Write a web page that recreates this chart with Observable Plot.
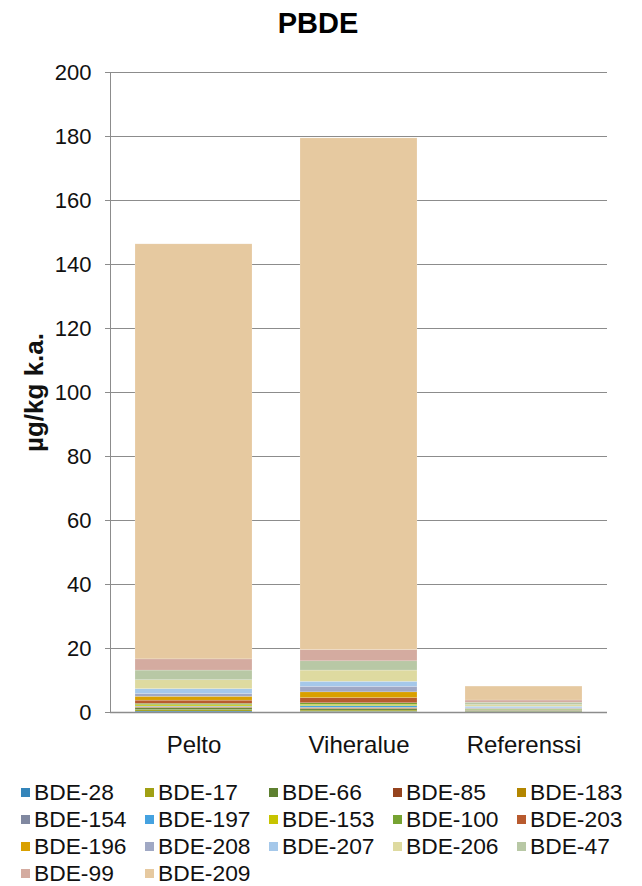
<!DOCTYPE html>
<html>
<head>
<meta charset="utf-8">
<script src="https://cdn.jsdelivr.net/npm/d3@7"></script>
<script src="https://cdn.jsdelivr.net/npm/@observablehq/plot@0.6"></script>
<style>
  body { margin: 0; background: #fff; font-family: "Liberation Sans", Arial, sans-serif; }
  #title { height: 60px; text-align: center; font-weight: bold; font-size: 29px; line-height: 46px; width: 636px; }
  #legend { position: relative; margin-left: 21px; display: grid; grid-template-columns: repeat(5, 124px); row-gap: 0; margin-top: 9px; }
  .item { display: flex; align-items: center; height: 27px; font-size: 22.8px; color: #111; white-space: nowrap; }
  .sw { width: 9px; height: 9px; margin-right: 4px; flex: none; }
</style>
</head>
<body>
<div id="title">PBDE</div>
<div id="chart"></div>
<div id="legend"></div>
<script>
const categories = ["Pelto", "Viheralue", "Referenssi"];
const series = ["BDE-28","BDE-17","BDE-66","BDE-85","BDE-183","BDE-154","BDE-197","BDE-153","BDE-100","BDE-203","BDE-196","BDE-208","BDE-207","BDE-206","BDE-47","BDE-99","BDE-209"];
const colors = ["#3485BA","#A0A014","#5E8030","#95431E","#B38600","#8088A0","#45A2E0","#C7C400","#76A332","#B85A2E","#D9A000","#A0A8C4","#A5C8EA","#DEDAA0","#B8C8A5","#D4ABA0","#E6C9A0"];
// values per series, in order Pelto, Viheralue, Referenssi
const pelto      = [0.3, 0.5, 0.5, 0.2, 0.2, 0.1, 0.1, 0.4, 0.4, 1.0, 1.2, 0.9, 1.5, 2.8, 3.0, 3.5, 129.7];
const viheralue  = [0.2, 0.4, 0.4, 0.2, 0.2, 0.1, 0.5, 0.4, 0.5, 1.6, 1.8, 1.7, 1.6, 3.5, 2.9, 3.5, 159.9];
const referenssi = [0.1, 0.1, 0.3, 0.05, 0.05, 0.05, 0.05, 0.05, 0.2, 0.05, 0.1, 0.2, 0.5, 0.5, 0.75, 0.7, 4.35];
const yTicks = [0, 20, 40, 60, 80, 100, 120, 140, 160, 180, 200];
const yLabel = "µg/kg k.a.";

const cols = [pelto, viheralue, referenssi];
const data = [];
series.forEach((s, i) => {
  categories.forEach((c, j) => data.push({category: c, series: s, value: cols[j][i]}));
});

const chart = Plot.plot({
  width: 642,
  height: 710,
  marginTop: 12,
  marginBottom: 58,
  marginLeft: 110,
  marginRight: 35,
  style: {fontFamily: "'Liberation Sans', Arial, sans-serif", fontSize: "22px", color: "#111", background: "#fff"},
  x: {domain: categories, paddingInner: 0.29, paddingOuter: 0.145, label: null},
  y: {domain: [0, 200], label: null},
  color: {domain: series, range: colors},
  marks: [
    Plot.gridY(yTicks, {stroke: "#8c8c8c", strokeOpacity: 1, strokeWidth: 1}),
    Plot.barY(data, {x: "category", y: "value", fill: "series", stroke: "#ffffff", strokeOpacity: 0.35, strokeWidth: 0.5}),
    Plot.ruleY([0], {stroke: "#8c8c8c", strokeWidth: 1.5}),
    Plot.frame({anchor: "left", stroke: "#8c8c8c"}),
    Plot.axisY(yTicks, {tickSize: 5, tickPadding: 14, stroke: "#8c8c8c", fontSize: "22px", fill: "#111", label: null}),
    Plot.axisX({tickSize: 0, tickPadding: 23, fontSize: "24px", fill: "#111", label: null}),
    Plot.text([yLabel], {frameAnchor: "left", textAnchor: "middle", rotate: -90, dx: -76, fontWeight: "bold", fontSize: 26, fill: "#111", lineAnchor: "middle"})
  ]
});
document.getElementById("chart").appendChild(chart);

const legend = document.getElementById("legend");
series.forEach((s, i) => {
  const it = document.createElement("div");
  it.className = "item";
  it.innerHTML = `<span class="sw" style="background:${colors[i]}"></span><span>${s}</span>`;
  legend.appendChild(it);
});
</script>
</body>
</html>
